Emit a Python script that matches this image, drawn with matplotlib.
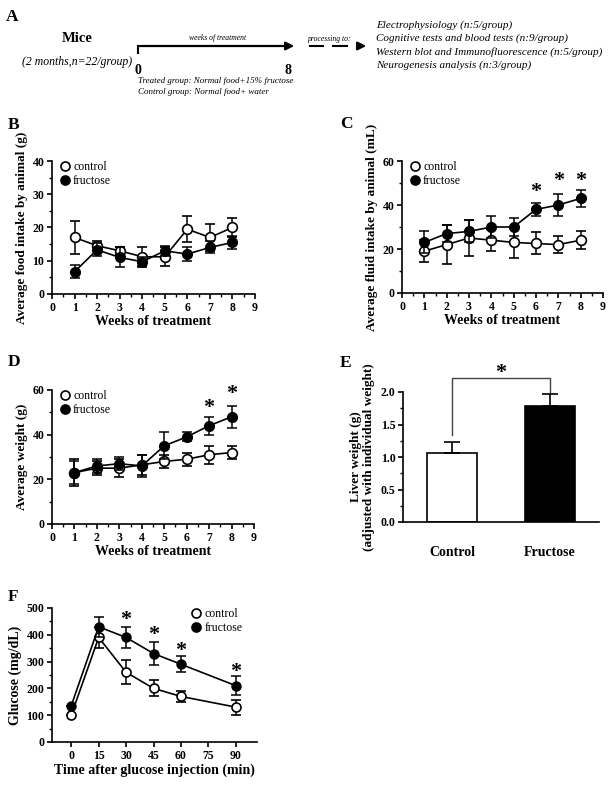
import numpy as np
import matplotlib
matplotlib.use("Agg")
import matplotlib.pyplot as plt
from matplotlib.lines import Line2D

plt.rcParams["font.family"] = ["Liberation Serif", "DejaVu Serif"]
plt.rcParams["font.weight"] = "bold"
plt.rcParams["axes.labelweight"] = "bold"

W, H = 614, 785

# ---- data ----
weeks = [1, 2, 3, 4, 5, 6, 7, 8]

food_ctrl = [17, 14.5, 13, 11.2, 11.2, 19.5, 17, 20]
food_ctrl_err = [5, 1.5, 1, 3, 2.8, 4, 4, 3]
food_fru = [6.7, 13.3, 11, 9.7, 13, 12, 14, 15.5]
food_fru_err = [2, 2, 3, 1.3, 1.5, 2, 1.8, 2]

fluid_ctrl = [19, 22, 25, 24, 23, 22.5, 22, 24]
fluid_ctrl_err = [5, 9, 8, 5, 7, 5, 4, 4]
fluid_fru = [23, 27, 28, 30, 30, 38, 40, 43]
fluid_fru_err = [5, 4, 5, 5, 4, 3, 5, 4]
fluid_stars = {6: 46, 7: 51, 8: 51}

weight_ctrl = [23, 25, 25, 26.5, 28, 29, 31, 32]
weight_ctrl_err = [6, 3, 4, 4.5, 3, 3, 4, 3]
weight_fru = [23, 26, 27, 26, 35, 39, 44, 48]
weight_fru_err = [5, 3, 3, 5, 6, 2, 4, 5]
weight_stars = {7: 52, 8: 58}

liver_groups = ["Control", "Fructose"]
liver_mean = [1.06, 1.78]
liver_err = [0.17, 0.19]

gtt_time = [0, 15, 30, 45, 60, 90]
gtt_ctrl = [100, 390, 260, 200, 170, 130]
gtt_ctrl_err = [0, 40, 45, 30, 22, 28]
gtt_fru = [135, 430, 390, 330, 290, 210]
gtt_fru_err = [0, 38, 40, 43, 30, 35]
gtt_stars = {30: 456, 45: 400, 60: 340, 90: 262}


def px(l, r, t, b):
    return [l / W, 1 - b / H, (r - l) / W, (b - t) / H]


fig = plt.figure(figsize=(W / 100, H / 100), dpi=100)

# overlay for panel A and panel letters
ov = fig.add_axes([0, 0, 1, 1])
ov.set_xlim(0, W)
ov.set_ylim(H, 0)
ov.axis("off")

for lab, (x, y) in {"A": (12, 17), "B": (14, 125), "C": (346, 124),
                    "D": (14, 362), "E": (346, 363), "F": (13, 597)}.items():
    ov.text(x, y, lab, fontsize=12.5, ha="center", va="center")

ov.text(77, 39, "Mice", fontsize=10.5, ha="center", va="center")
ov.text(77, 62, "(2 months,n=22/group)", fontsize=8.5, style="italic",
        weight="normal", ha="center", va="center")
ov.plot([138, 138], [46, 53], color="k", lw=1.5)
ov.annotate("", xy=(297, 46), xytext=(137, 46),
            arrowprops=dict(arrowstyle="-|>", lw=1.6, color="k", mutation_scale=12))
ov.text(138, 70, "0", fontsize=10, ha="center", va="center")
ov.text(288, 70, "8", fontsize=10, ha="center", va="center")
ov.text(218, 38, "weeks of treatment", fontsize=5.5, style="italic",
        weight="normal", ha="center", va="center")
ov.text(138, 81, "Treated group: Normal food+15% fructose", fontsize=6.5,
        style="italic", weight="normal", ha="left", va="center")
ov.text(138, 92, "Control group: Normal food+ water", fontsize=6.5,
        style="italic", weight="normal", ha="left", va="center")
ov.text(329, 39, "processing to:", fontsize=5.5, style="italic",
        weight="normal", ha="center", va="center")
ov.plot([310, 323], [46, 46], color="k", lw=1.5)
ov.plot([333, 347], [46, 46], color="k", lw=1.5)
ov.annotate("", xy=(369, 46), xytext=(357, 46),
            arrowprops=dict(arrowstyle="-|>", lw=1.6, color="k", mutation_scale=12))
for i, s in enumerate(["Electrophysiology (n:5/group)",
                       "Cognitive tests and blood tests (n:9/group)",
                       "Western blot and Immunofluorescence (n:5/group)",
                       "Neurogenesis analysis (n:3/group)"]):
    ov.text(376, 25 + 13.3 * i, s, fontsize=8, style="italic",
            weight="normal", ha="left", va="center")


def style_axes(ax):
    for s in ["top", "right"]:
        ax.spines[s].set_visible(False)
    for s in ["left", "bottom"]:
        ax.spines[s].set_linewidth(1.2)
    ax.tick_params(which="major", direction="out", length=3.5, width=1.2,
                   labelsize=8.5, pad=2)
    ax.tick_params(which="minor", direction="out", length=2, width=1)


def legend(ax, loc, anchor):
    h = [Line2D([], [], marker="o", ls="none", mfc="white", mec="k", mew=1.2, ms=6.5),
         Line2D([], [], marker="o", ls="none", mfc="k", mec="k", mew=1.2, ms=6.5)]
    ax.legend(h, ["control", "fructose"], loc=loc, bbox_to_anchor=anchor,
              frameon=False, handlelength=0.8, handletextpad=0.3,
              labelspacing=0.15, borderpad=0, borderaxespad=0,
              prop={"size": 8.5, "weight": "normal"})


def week_panel(rect, ctrl, ctrl_err, fru, fru_err, ymax, ystep, ylabel, stars):
    ax = fig.add_axes(px(*rect))
    ax.errorbar(weeks, ctrl, yerr=ctrl_err, fmt="o-", color="k", mfc="white",
                mec="k", mew=1.2, ms=7, lw=1.2, elinewidth=1.1, capsize=3.5,
                capthick=1.1, zorder=3)
    ax.errorbar(weeks, fru, yerr=fru_err, fmt="o-", color="k", mfc="k",
                mec="k", ms=7, lw=1.2, elinewidth=1.1, capsize=3.5,
                capthick=1.1, zorder=4)
    for x, y in stars.items():
        ax.text(x, y, "*", fontsize=16, ha="center", va="center")
    ax.set_xlim(0, 9)
    ax.set_ylim(0, ymax)
    ax.set_xticks(range(10))
    ax.set_xticks(np.arange(0.5, 9, 1), minor=True)
    ax.set_yticks(np.arange(0, ymax + 1, ystep))
    ax.set_yticks(np.arange(ystep / 2, ymax, ystep), minor=True)
    style_axes(ax)
    ax.set_ylabel(ylabel, fontsize=9.5, labelpad=3)
    ax.set_xlabel("Weeks of treatment", fontsize=10, labelpad=1)
    legend(ax, "upper left", (0.04, 1.0))
    return ax


week_panel((52, 255, 161, 294), food_ctrl, food_ctrl_err, food_fru, food_fru_err,
           40, 10, "Average food intake by animal (g)", {})
week_panel((402, 603, 161, 293), fluid_ctrl, fluid_ctrl_err, fluid_fru, fluid_fru_err,
           60, 20, "Average fluid intake by animal (mL)", fluid_stars)
week_panel((52, 254, 390, 524), weight_ctrl, weight_ctrl_err, weight_fru, weight_fru_err,
           60, 20, "Average weight (g)", weight_stars)

# ---- E: liver weight ----
axE = fig.add_axes(px(403, 599, 392, 522))
xe = np.arange(len(liver_groups))
axE.bar(xe, liver_mean, width=0.51, color=["white", "black"], edgecolor="k",
        linewidth=1.2, zorder=2)
axE.errorbar(xe, liver_mean, yerr=[[0, 0], liver_err], fmt="none", ecolor="k",
             elinewidth=1.2, capsize=6, capthick=1.2, zorder=3, clip_on=False)
axE.plot([0, 0, 1, 1], [1.34, 2.215, 2.215, 2.0], color="#444444", lw=1,
         clip_on=False)
axE.text(0.5, 2.30, "*", fontsize=16, ha="center", va="center")
axE.set_xlim(-0.5, 1.5)
axE.set_ylim(0, 2.0)
axE.set_xticks(xe)
axE.set_xticklabels(liver_groups)
axE.set_yticks(np.arange(0, 2.01, 0.5))
axE.set_yticks(np.arange(0.25, 2.0, 0.5), minor=True)
style_axes(axE)
axE.tick_params(axis="x", length=0, pad=17, labelsize=10)
axE.set_ylabel("Liver weight (g)\n(adjusted with individual weight)",
               fontsize=9.5, labelpad=4, linespacing=1.1)

# ---- F: glucose tolerance ----
axF = fig.add_axes(px(52, 257, 608, 742))
axF.errorbar(gtt_time, gtt_ctrl, yerr=gtt_ctrl_err, fmt="o-", color="k",
             mfc="white", mec="k", mew=1.2, ms=6.5, lw=1.2, elinewidth=1.1,
             capsize=3.5, capthick=1.1, zorder=3)
axF.errorbar(gtt_time, gtt_fru, yerr=gtt_fru_err, fmt="o-", color="k",
             mfc="k", mec="k", ms=6.5, lw=1.2, elinewidth=1.1, capsize=3.5,
             capthick=1.1, zorder=4)
for x, y in gtt_stars.items():
    axF.text(x, y, "*", fontsize=16, ha="center", va="center")
axF.set_xlim(-10.5, 101.5)
axF.set_ylim(0, 500)
axF.set_xticks(np.arange(0, 91, 15))
axF.set_yticks(np.arange(0, 501, 100))
axF.set_yticks(np.arange(50, 500, 100), minor=True)
style_axes(axF)
axF.set_ylabel("Glucose (mg/dL)", fontsize=10, labelpad=3)
axF.set_xlabel("Time after glucose injection (min)", fontsize=10, labelpad=1)
legend(axF, "upper left", (0.68, 1.0))

fig.savefig("out.png", dpi=100)
